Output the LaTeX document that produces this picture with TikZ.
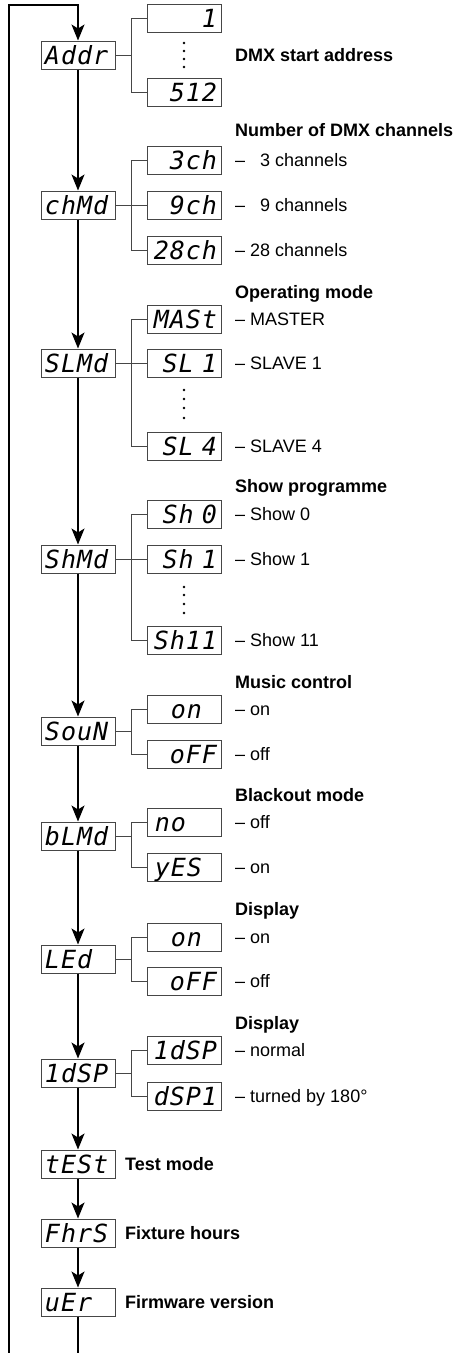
\documentclass[tikz,border=0pt]{standalone}
\usepackage{fontspec}
\setmainfont{Liberation Sans}
\newfontfamily\segfont[LetterSpace=4]{DejaVu Sans Mono}
\usetikzlibrary{arrows.meta}
\definecolor{BoxGray}{RGB}{70,70,70}
\tikzset{
  disp/.style={draw=BoxGray,line width=1pt,inner xsep=4pt,inner ysep=0pt,text width=66pt,
    minimum height=28pt,text height=18pt,text depth=0pt,
    font=\segfont\itshape\fontsize{25}{25}\selectfont},
  menu/.style={disp,align=left},
  opt/.style={disp,align=right},
  lbl/.style={anchor=west,inner sep=0pt,text height=12.9pt,text depth=0pt,
    font=\fontsize{18}{18}\selectfont},
  head/.style={lbl,font=\bfseries\fontsize{18}{18}\selectfont},
  flow/.style={draw=black,line width=1.6pt,-{Stealth[length=16pt,width=13pt,inset=4pt]}},
  branch/.style={draw=BoxGray,line width=1pt},
}

\begin{document}
\begin{tikzpicture}[x=1pt,y=-1pt]
\useasboundingbox (0,0) rectangle (462,1353);
\coordinate (loopbot) at (9,1353);
\coordinate (looptop) at (9,5);
\coordinate (endbot) at (78,1353);
\node[menu] (addr) at (78,55) {Addr};
\node[menu] (chmd) at (78,205) {chMd};
\node[menu] (slmd) at (78,363) {SLMd};
\node[menu] (shmd) at (78,559) {ShMd};
\node[menu] (soun) at (78,731) {SouN};
\node[menu] (blmd) at (78,836) {bLMd};
\node[menu] (led) at (78,959) {LEd};
\node[menu] (idsp) at (78,1073) {1dSP};
\node[menu] (test) at (78,1164) {tESt};
\node[menu] (fhrs) at (78,1233) {FhrS};
\node[menu] (uer) at (78,1302) {uEr};
\node[opt] (a1) at (184,18) {1};
\node[opt] (a512) at (184,92) {512};
\node[opt] (ch3) at (184,160) {3ch};
\node[opt] (ch9) at (184,205) {9ch};
\node[opt] (ch28) at (184,250) {28ch};
\node[opt] (mast) at (184,319) {MASt};
\node[opt] (sl1) at (184,363) {SL 1};
\node[opt] (sl4) at (184,446) {SL 4};
\node[opt] (sh0) at (184,514) {Sh 0};
\node[opt] (sh1) at (184,559) {Sh 1};
\node[opt] (sh11) at (184,640) {Sh11};
\node[opt] (son) at (184,709) {on\hphantom{0}};
\node[opt] (soff) at (184,754) {oFF};
\node[opt] (bno) at (184,822) {no\hphantom{00}};
\node[opt] (byes) at (184,867) {yES\hphantom{0}};
\node[opt] (lon) at (184,937) {on\hphantom{0}};
\node[opt] (loff) at (184,981) {oFF};
\node[opt] (dnorm) at (184,1050) {1dSP};
\node[opt] (dturn) at (184,1096) {dSP1};
\draw[flow] (loopbot) -- (looptop) -| (addr);
\draw[flow] (addr) -- (chmd);
\draw[flow] (chmd) -- (slmd);
\draw[flow] (slmd) -- (shmd);
\draw[flow] (shmd) -- (soun);
\draw[flow] (soun) -- (blmd);
\draw[flow] (blmd) -- (led);
\draw[flow] (led) -- (idsp);
\draw[flow] (idsp) -- (test);
\draw[flow] (test) -- (fhrs);
\draw[flow] (fhrs) -- (uer);
\draw[flow,-] (uer) -- (endbot);
\draw[branch] (addr.east) -- ++(16,0) |- (a1.west);
\draw[branch] (addr.east) -- ++(16,0) |- (a512.west);
\draw[branch] (chmd.east) -- (ch9.west);
\draw[branch] (chmd.east) -- ++(16,0) |- (ch3.west);
\draw[branch] (chmd.east) -- ++(16,0) |- (ch28.west);
\draw[branch] (slmd.east) -- (sl1.west);
\draw[branch] (slmd.east) -- ++(16,0) |- (mast.west);
\draw[branch] (slmd.east) -- ++(16,0) |- (sl4.west);
\draw[branch] (shmd.east) -- (sh1.west);
\draw[branch] (shmd.east) -- ++(16,0) |- (sh0.west);
\draw[branch] (shmd.east) -- ++(16,0) |- (sh11.west);
\draw[branch] (soun.east) -- ++(16,0) |- (son.west);
\draw[branch] (soun.east) -- ++(16,0) |- (soff.west);
\draw[branch] (blmd.east) -- ++(16,0) |- (bno.west);
\draw[branch] (blmd.east) -- ++(16,0) |- (byes.west);
\draw[branch] (led.east) -- ++(16,0) |- (lon.west);
\draw[branch] (led.east) -- ++(16,0) |- (loff.west);
\draw[branch] (idsp.east) -- ++(16,0) |- (dnorm.west);
\draw[branch] (idsp.east) -- ++(16,0) |- (dturn.west);
\foreach \y in {43,51,59,67,390,399,408,418,587,595,604,613}
  \fill (184,\y) circle (1.4pt);
\node[head] (haddr) at (235,55) {DMX start address};
\node[head] (hchmd) at (235,130) {Number of DMX channels};
\node[lbl] (tch3) at (235,160) {-- \phantom{2}3 channels};
\node[lbl] (tch9) at (235,205) {-- \phantom{2}9 channels};
\node[lbl] (tch28) at (235,250) {-- 28 channels};
\node[head] (hslmd) at (235,292) {Operating mode};
\node[lbl] (tmast) at (235,319) {-- MASTER};
\node[lbl] (tsl1) at (235,363) {-- SLAVE 1};
\node[lbl] (tsl4) at (235,446) {-- SLAVE 4};
\node[head] (hshmd) at (235,486) {Show programme};
\node[lbl] (tsh0) at (235,514) {-- Show 0};
\node[lbl] (tsh1) at (235,559) {-- Show 1};
\node[lbl] (tsh11) at (235,640) {-- Show 11};
\node[head] (hsoun) at (235,682) {Music control};
\node[lbl] (tson) at (235,709) {-- on};
\node[lbl] (tsoff) at (235,754) {-- off};
\node[head] (hblmd) at (235,795) {Blackout mode};
\node[lbl] (tbno) at (235,822) {-- off};
\node[lbl] (tbyes) at (235,867) {-- on};
\node[head] (hled) at (235,909) {Display};
\node[lbl] (tlon) at (235,937) {-- on};
\node[lbl] (tloff) at (235,981) {-- off};
\node[head] (hidsp) at (235,1023) {Display};
\node[lbl] (tdnorm) at (235,1050) {-- normal};
\node[lbl] (tdturn) at (235,1096) {-- turned by 180°};
\node[head] (htest) at (125,1164) {Test mode};
\node[head] (hfhrs) at (125,1233) {Fixture hours};
\node[head] (huer) at (125,1302) {Firmware version};
\end{tikzpicture}
\end{document}
